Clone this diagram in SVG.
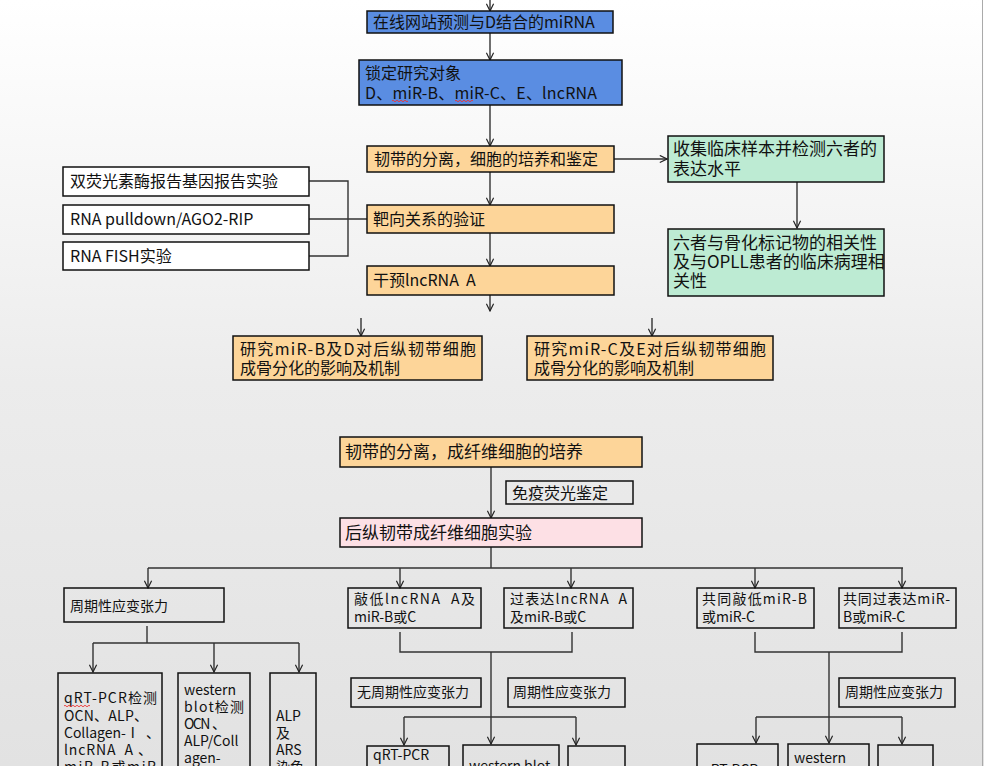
<svg xmlns="http://www.w3.org/2000/svg" width="984" height="766" viewBox="0 0 984 766">
<defs>
<linearGradient id="bg" x1="0" y1="0" x2="0" y2="1">
<stop offset="0" stop-color="#ffffff"/>
<stop offset="0.5" stop-color="#ececec"/>
<stop offset="1" stop-color="#e2e2e2"/>
</linearGradient>
<marker id="ah" viewBox="0 0 10 10" refX="9" refY="5" markerWidth="9" markerHeight="9" markerUnits="userSpaceOnUse" orient="auto">
<path d="M1,1 L9,5 L1,9" fill="none" stroke="#222" stroke-width="1.3"/>
</marker>
<style>
.b{stroke:#111;stroke-width:1.5}
.blue{fill:#5a8de2}
.org{fill:#fdd599}
.grn{fill:#bdebd3}
.pnk{fill:#fde0e5}
.wht{fill:#ffffff}
.clr{fill:none}
.t{font-family:"Noto Sans CJK SC","Liberation Sans",sans-serif;fill:#111}
.s16{font-size:16px}
.s17{font-size:17px}
.s14{font-size:14px}
.c{fill:none;stroke:#333;stroke-width:1.4}
.w{fill:none;stroke:#e33;stroke-width:0.9}
</style>
</defs>
<rect x="0" y="0" width="984" height="766" fill="url(#bg)"/>
<line x1="982.5" y1="0" x2="982.5" y2="766" stroke="#aaa" stroke-width="1"/>

<g id="connectors">
<line class="c" x1="490" y1="0" x2="490" y2="11" marker-end="url(#ah)"/>
<line class="c" x1="490" y1="33" x2="490" y2="60" marker-end="url(#ah)"/>
<line class="c" x1="490" y1="105" x2="490" y2="146" marker-end="url(#ah)"/>
<line class="c" x1="614" y1="159" x2="667" y2="159" marker-end="url(#ah)"/>
<line class="c" x1="797" y1="182" x2="797" y2="228" marker-end="url(#ah)"/>
<line class="c" x1="490" y1="172" x2="490" y2="205" marker-end="url(#ah)"/>
<line class="c" x1="490" y1="233" x2="490" y2="266" marker-end="url(#ah)"/>
<line class="c" x1="490" y1="295" x2="490" y2="311" marker-end="url(#ah)"/>
<path class="c" d="M309,181 H348 V256 H309 M309,219 H367"/>
<line class="c" x1="361" y1="318" x2="361" y2="336" marker-end="url(#ah)"/>
<line class="c" x1="652" y1="318" x2="652" y2="336" marker-end="url(#ah)"/>

<line class="c" x1="491" y1="467" x2="491" y2="518" marker-end="url(#ah)"/>
<path class="c" d="M491,547 V568 M148,568 H903"/>
<line class="c" x1="148" y1="568" x2="148" y2="588" marker-end="url(#ah)"/>
<line class="c" x1="400" y1="568" x2="400" y2="588" marker-end="url(#ah)"/>
<line class="c" x1="571" y1="568" x2="571" y2="588" marker-end="url(#ah)"/>
<line class="c" x1="755" y1="568" x2="755" y2="588" marker-end="url(#ah)"/>
<line class="c" x1="902" y1="568" x2="902" y2="588" marker-end="url(#ah)"/>

<path class="c" d="M147,626 V643 M93,643 H299"/>
<line class="c" x1="93" y1="643" x2="93" y2="672" marker-end="url(#ah)"/>
<line class="c" x1="214" y1="643" x2="214" y2="672" marker-end="url(#ah)"/>
<line class="c" x1="299" y1="643" x2="299" y2="672" marker-end="url(#ah)"/>

<path class="c" d="M400,632 V652 H572 V632 M404,717 H576"/>
<line class="c" x1="491" y1="652" x2="491" y2="744" marker-end="url(#ah)"/>
<line class="c" x1="404" y1="717" x2="404" y2="745" marker-end="url(#ah)"/>
<line class="c" x1="576" y1="717" x2="576" y2="745" marker-end="url(#ah)"/>

<path class="c" d="M755,632 V652 H902 V632 M756,717 H902"/>
<line class="c" x1="829" y1="652" x2="829" y2="743" marker-end="url(#ah)"/>
<line class="c" x1="756" y1="717" x2="756" y2="743" marker-end="url(#ah)"/>
<line class="c" x1="902" y1="717" x2="902" y2="744" marker-end="url(#ah)"/>
</g>

<g id="n1"><rect class="b blue" x="367" y="11" width="246" height="22"/>
<text class="t s16" x="373" y="28">在线网站预测与D结合的miRNA</text></g>

<g id="n2"><rect class="b blue" x="359" y="60" width="263" height="45"/>
<text class="t s16" x="365" y="79">锁定研究对象</text>
<text class="t s16" x="365" y="99" textLength="232" lengthAdjust="spacing">D、miR-B、miR-C、E、lncRNA</text>
<path class="w" d="M392,101 q1,-1.5 2,0 t2,0 t2,0 t2,0 t2,0 t2,0 t2,0 t2,0 M455,101 q1,-1.5 2,0 t2,0 t2,0 t2,0 t2,0 t2,0 t2,0 t2,0 t2,0"/></g>

<g id="n3"><rect class="b org" x="367" y="146" width="247" height="26"/>
<text class="t s16" x="374" y="165">韧带的分离，细胞的培养和鉴定</text></g>

<g id="n4"><rect class="b grn" x="668" y="136" width="216" height="46"/>
<text class="t s17" x="673" y="155">收集临床样本并检测六者的</text>
<text class="t s17" x="673" y="175">表达水平</text></g>

<g id="n5"><rect class="b grn" x="668" y="229" width="216" height="67"/>
<text class="t s17" x="673" y="249">六者与骨化标记物的相关性</text>
<text class="t s17" x="673" y="268">及与OPLL患者的临床病理相</text>
<text class="t s17" x="673" y="287">关性</text></g>

<g id="n6"><rect class="b wht" x="63" y="167" width="246" height="29"/>
<text class="t s16" x="70" y="187">双荧光素酶报告基因报告实验</text></g>
<g id="n7"><rect class="b wht" x="63" y="205" width="246" height="29"/>
<text class="t s16" x="70" y="225">RNA pulldown/AGO2-RIP</text></g>
<g id="n8"><rect class="b wht" x="63" y="242" width="246" height="28"/>
<text class="t s16" x="70" y="262">RNA FISH实验</text></g>

<g id="n9"><rect class="b org" x="367" y="205" width="247" height="28"/>
<text class="t s16" x="373" y="225">靶向关系的验证</text></g>

<g id="n10"><rect class="b org" x="367" y="266" width="247" height="29"/>
<text class="t s16" x="373" y="286">干预lncRNA&#160;&#160;A</text></g>

<g id="n11"><rect class="b org" x="233" y="336" width="249" height="44"/>
<text class="t s16" x="240" y="355" textLength="236" lengthAdjust="spacing">研究miR-B及D对后纵韧带细胞</text>
<text class="t s16" x="240" y="374">成骨分化的影响及机制</text></g>

<g id="n12"><rect class="b org" x="527" y="336" width="246" height="44"/>
<text class="t s16" x="534" y="355" textLength="232" lengthAdjust="spacing">研究miR-C及E对后纵韧带细胞</text>
<text class="t s16" x="534" y="374">成骨分化的影响及机制</text></g>

<g id="n13"><rect class="b org" x="340" y="437" width="302" height="30"/>
<text class="t s17" x="345" y="458">韧带的分离，成纤维细胞的培养</text></g>

<g id="n14"><rect class="b clr" x="506" y="481" width="127" height="23"/>
<text class="t s16" x="512" y="499">免疫荧光鉴定</text></g>

<g id="n15"><rect class="b pnk" x="340" y="518" width="302" height="29"/>
<text class="t s17" x="345" y="539">后纵韧带成纤维细胞实验</text></g>

<g id="n16"><rect class="b clr" x="64" y="588" width="160" height="34"/>
<text class="t s14" x="70" y="611">周期性应变张力</text></g>

<g id="n17"><rect class="b clr" x="58" y="673" width="104" height="100"/>
<text class="t s14" x="64" y="703" textLength="93" lengthAdjust="spacing">qRT-PCR检测</text>
<text class="t s14" x="64" y="721" textLength="84" lengthAdjust="spacing">OCN、ALP、</text>
<text class="t s14" x="64" y="738" textLength="96" lengthAdjust="spacing">Collagen-Ⅰ&#160;&#160;、</text>
<text class="t s14" x="64" y="755" textLength="88" lengthAdjust="spacing">lncRNA&#160;&#160;A&#160;、</text>
<text class="t s14" x="64" y="772" textLength="92" lengthAdjust="spacing">miR-B或miR</text>
<path class="w" d="M64,706 q1,-1.5 2,0 t2,0 t2,0 t2,0 t2,0 t2,0 t2,0 t2,0 t2,0 t2,0 t2,0 t2,0 t2,0"/></g>

<g id="n18"><rect class="b clr" x="178" y="673" width="72" height="100"/>
<text class="t s14" x="184" y="695">western</text>
<text class="t s14" x="184" y="712" textLength="60" lengthAdjust="spacing">blot检测</text>
<text class="t s14" x="184" y="729" textLength="42" lengthAdjust="spacing">OCN&#160;&#160;、</text>
<text class="t s14" x="184" y="746">ALP/Coll</text>
<text class="t s14" x="184" y="763">agen-</text></g>

<g id="n19"><rect class="b clr" x="270" y="673" width="46" height="100"/>
<text class="t s14" x="276" y="721">ALP</text>
<text class="t s14" x="276" y="738">及</text>
<text class="t s14" x="276" y="755">ARS</text>
<text class="t s14" x="276" y="772">染色</text></g>

<g id="n20"><rect class="b clr" x="348" y="588" width="133" height="40"/>
<text class="t s14" x="354" y="604" textLength="121" lengthAdjust="spacing">敲低lncRNA&#160;&#160;A及</text>
<text class="t s14" x="354" y="622">miR-B或C</text></g>

<g id="n21"><rect class="b clr" x="504" y="588" width="129" height="40"/>
<text class="t s14" x="510" y="604" textLength="117" lengthAdjust="spacing">过表达lncRNA&#160;&#160;A</text>
<text class="t s14" x="510" y="622">及miR-B或C</text></g>

<g id="n22"><rect class="b clr" x="351" y="678" width="130" height="29"/>
<text class="t s14" x="357" y="697">无周期性应变张力</text></g>

<g id="n23"><rect class="b clr" x="508" y="678" width="117" height="29"/>
<text class="t s14" x="513" y="697">周期性应变张力</text></g>

<g id="n24"><rect class="b clr" x="367" y="746" width="82" height="30"/>
<text class="t s14" x="373" y="760">qRT-PCR</text></g>
<g id="n25"><rect class="b clr" x="463" y="745" width="96" height="30"/>
<text class="t s14" x="469" y="771">western blot</text></g>
<g id="n26"><rect class="b clr" x="568" y="746" width="57" height="30"/></g>

<g id="n27"><rect class="b clr" x="697" y="588" width="117" height="40"/>
<text class="t s14" x="702" y="604" textLength="105" lengthAdjust="spacing">共同敲低miR-B</text>
<text class="t s14" x="702" y="622">或miR-C</text></g>

<g id="n28"><rect class="b clr" x="839" y="588" width="117" height="40"/>
<text class="t s14" x="843" y="604" textLength="107" lengthAdjust="spacing">共同过表达miR-</text>
<text class="t s14" x="843" y="622">B或miR-C</text></g>

<g id="n29"><rect class="b clr" x="839" y="678" width="116" height="29"/>
<text class="t s14" x="845" y="697">周期性应变张力</text></g>

<g id="n30"><rect class="b clr" x="697" y="744" width="81" height="30"/>
<text class="t s14" x="702" y="775">qRT-PCR</text></g>
<g id="n31"><rect class="b clr" x="788" y="744" width="81" height="30"/>
<text class="t s14" x="794" y="763">western</text></g>
<g id="n32"><rect class="b clr" x="878" y="745" width="55" height="30"/></g>
</svg>
